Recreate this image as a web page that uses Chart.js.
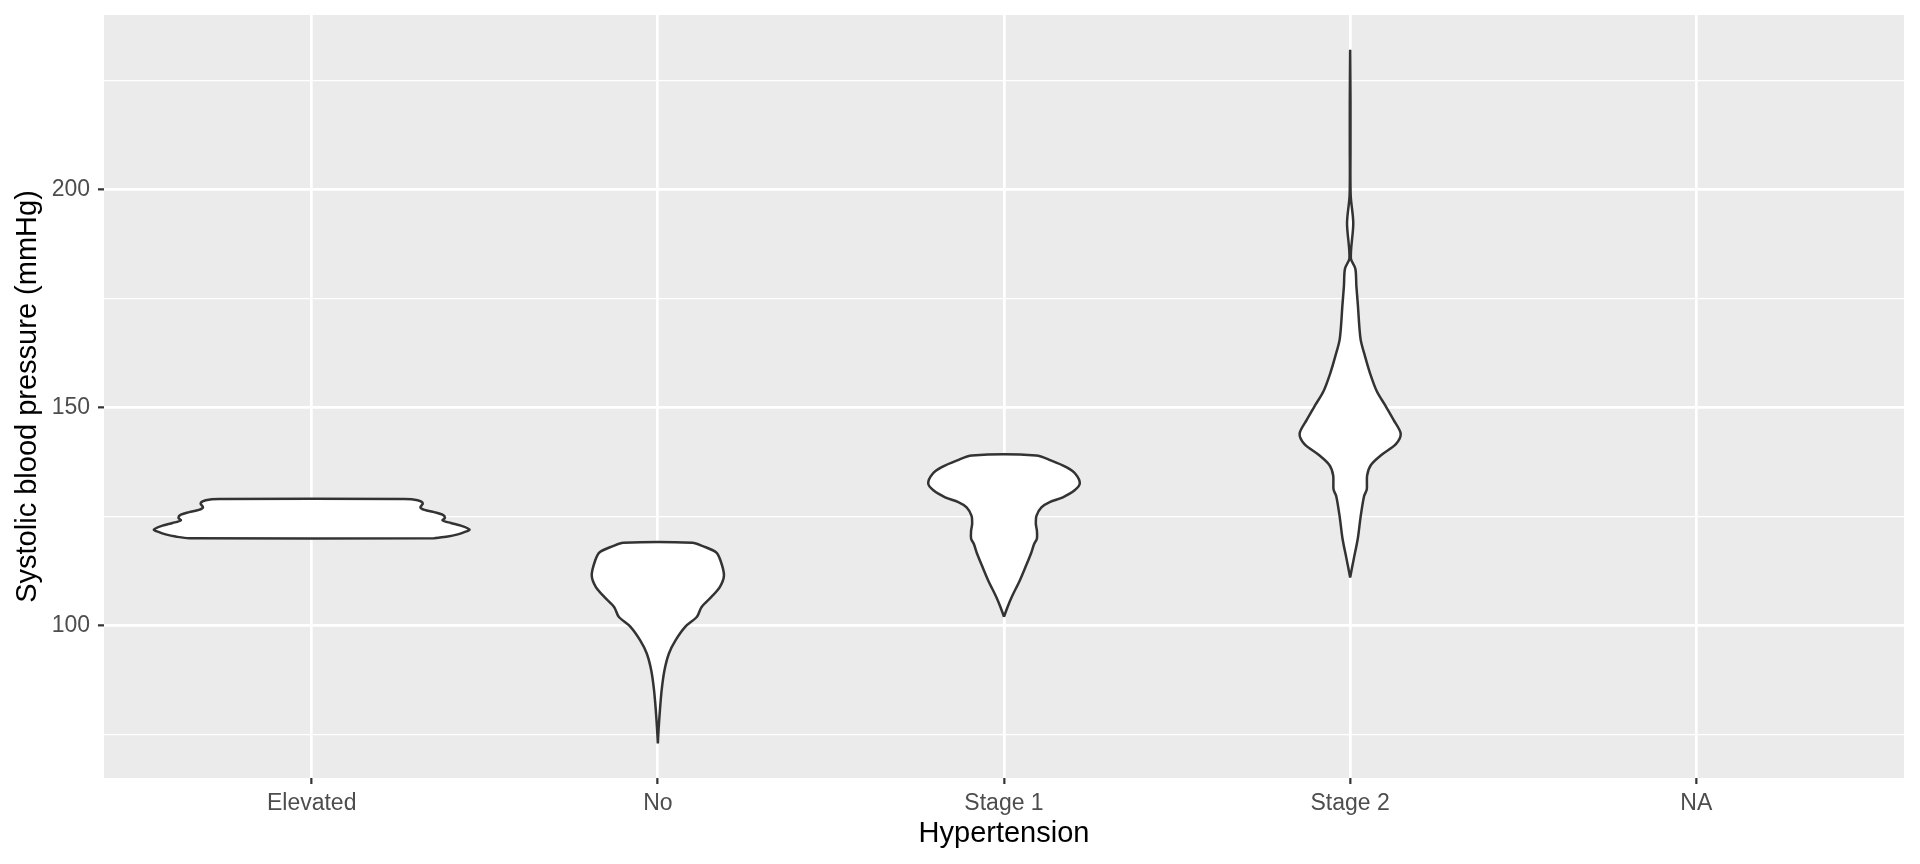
<!DOCTYPE html>
<html>
<head>
<meta charset="utf-8">
<title>Systolic blood pressure by hypertension</title>
<script src="https://cdn.jsdelivr.net/npm/chart.js@4.4.1/dist/chart.umd.min.js"></script>
<style>
  html, body { margin: 0; padding: 0; background: #fff; }
  #wrap { width: 1920px; height: 864px; }
</style>
</head>
<body>
<div id="wrap"><canvas id="c" width="1920" height="864"></canvas></div>
<script>
// ── DATA ─────────────────────────────────────────────────────
const groups = ['Elevated', 'No', 'Stage 1', 'Stage 2', 'NA'];
const yTicks = [75, 100, 125, 150, 175, 200, 225];
const yLabels = [100, 150, 200];

// violin outlines: blood pressure value -> half width (in category units)
const elevatedY = [120.0, 120.4, 120.9, 121.4, 122.0, 122.9, 123.5, 124.1, 124.7, 125.4, 126.0, 126.5, 127.1, 128.0, 128.7, 129.0];
const elevatedW = [0.354, 0.393, 0.422, 0.441, 0.456, 0.431, 0.402, 0.378, 0.385, 0.378, 0.354, 0.326, 0.314, 0.321, 0.306, 0.268];

const noY = [73.0, 76.0, 80.6, 85.2, 89.7, 93.6, 96.6, 99.7, 102.0, 104.2, 106.5, 108.8, 111.5, 114.9, 116.8, 118.2, 119.0];
const noW = [0, 0.002, 0.006, 0.011, 0.019, 0.032, 0.051, 0.079, 0.113, 0.126, 0.154, 0.179, 0.191, 0.181, 0.168, 0.130, 0.100];

const stage1Y = [102.0, 104.2, 106.5, 110.4, 113.4, 116.5, 118.7, 119.9, 121.8, 123.3, 125.2, 127.1, 128.3, 129.4, 131.0, 132.6, 134.8, 136.3, 137.8, 139.0];
const stage1W = [0, 0.010, 0.022, 0.046, 0.062, 0.078, 0.087, 0.095, 0.095, 0.092, 0.094, 0.108, 0.132, 0.170, 0.204, 0.219, 0.206, 0.180, 0.137, 0.093];

const stage2Y = [111.0, 115.1, 119.9, 124.8, 129.6, 131.2, 134.4, 136.8, 139.2, 141.6, 144.0, 147.2, 150.5, 153.7, 157.7, 161.7, 165.7, 173.8, 177.8, 181.8, 184.2, 192.2, 198.7, 210.0, 220.0, 232.0];
const stage2W = [0, 0.010, 0.022, 0.030, 0.040, 0.048, 0.049, 0.060, 0.092, 0.132, 0.146, 0.125, 0.101, 0.077, 0.058, 0.043, 0.030, 0.022, 0.018, 0.015, 0.002, 0.009, 0.0015, 0.001, 0.001, 0];

const violins = [
	[0, elevatedY, elevatedW],
	[1, noY, noW],
	[2, stage1Y, stage1W],
	[3, stage2Y, stage2W],
];

// ── HELPERS ──────────────────────────────────────────────────
const isMajor = v => yLabels.includes(v);

// right side bottom->top, then left side top->bottom, closed
function outline(pos, ys, ws) {
	const right = ys.map((y, i) => ({ x: pos + ws[i], y }));
	const left = ys.map((y, i) => ({ x: pos - ws[i], y })).reverse();
	return [...right, ...left, right[0]];
}

// fixed axis boxes, no extra room for overhanging labels
function fixBox(s, key, size) {
	s[key] = size;
	s.paddingTop = 0; s.paddingBottom = 0;
	s.paddingLeft = 0; s.paddingRight = 0;
}

const panelBg = {
	id: 'panelBg',
	beforeDraw(chart) {
		const { ctx, chartArea: a } = chart;
		ctx.save();
		ctx.fillStyle = '#EBEBEB';
		ctx.fillRect(a.left, a.top, a.right - a.left, a.bottom - a.top);
		ctx.restore();
	}
};

// ── CHART ────────────────────────────────────────────────────
Chart.defaults.font.family = '"Liberation Sans", Arial, sans-serif';

new Chart(document.getElementById('c'), {
	type: 'line',
	data: {
		datasets: violins.map(([pos, ys, ws]) => ({
			data: outline(pos, ys, ws),
			fill: 'shape',
			backgroundColor: '#FFFFFF',
			borderColor: '#333333',
			borderWidth: 2.5,
			pointRadius: 0,
			tension: 0.3
		}))
	},
	options: {
		responsive: false,
		animation: false,
		devicePixelRatio: 1,
		layout: { padding: { top: 15, right: 16, left: 0, bottom: 0 } },
		plugins: { legend: { display: false }, tooltip: { enabled: false } },
		scales: {
			x: {
				type: 'linear', min: -0.6, max: 4.6,
				afterBuildTicks: s => { s.ticks = groups.map((g, i) => ({ value: i })); },
				afterFit: s => fixBox(s, 'height', 86),
				border: { display: false },
				grid: { color: '#FFFFFF', lineWidth: 2.7, tickLength: 6, tickColor: '#333333', tickWidth: 2.2 },
				ticks: { callback: v => groups[v], color: '#4D4D4D', font: { size: 23 }, padding: 5.5, maxRotation: 0, autoSkip: false },
				title: { display: true, text: 'Hypertension', color: '#000000', font: { size: 29 }, padding: { top: 0, bottom: 12.5 } }
			},
			y: {
				type: 'linear', min: 65.05, max: 239.95,
				afterBuildTicks: s => { s.ticks = yTicks.map(v => ({ value: v })); },
				afterFit: s => fixBox(s, 'width', 104),
				border: { display: false },
				grid: {
					color: '#FFFFFF',
					lineWidth: c => (c.tick && isMajor(c.tick.value)) ? 2.7 : 1.35,
					tickLength: 6,
					tickColor: c => (c.tick && isMajor(c.tick.value)) ? '#333333' : 'rgba(0,0,0,0)',
					tickWidth: 2.2
				},
				ticks: { callback: v => isMajor(v) ? String(v) : '', color: '#4D4D4D', font: { size: 23 }, padding: 8 },
				title: { display: true, text: 'Systolic blood pressure (mmHg)', color: '#000000', font: { size: 29 }, padding: { top: 10.5, bottom: 0 } }
			}
		}
	},
	plugins: [panelBg]
});
</script>
</body>
</html>
